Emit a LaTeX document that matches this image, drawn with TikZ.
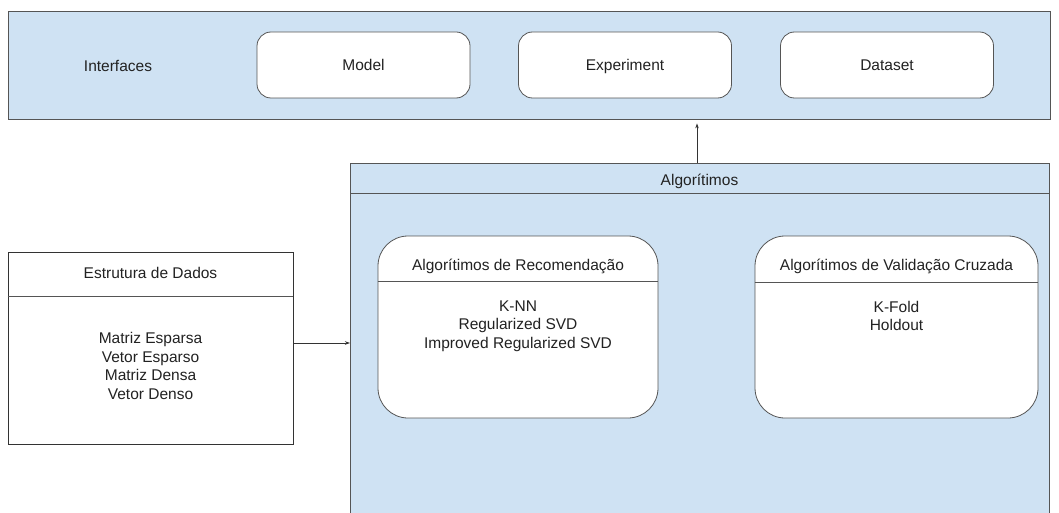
\documentclass[tikz,border=0pt]{standalone}
\usepackage{fontspec}
\setmainfont{Liberation Sans}
\usetikzlibrary{arrows.meta,calc}
\definecolor{boxblue}{HTML}{CFE2F3}
\definecolor{edge}{HTML}{555555}
\definecolor{txt}{HTML}{222222}
\begin{document}
\begin{tikzpicture}[x=1pt,y=-1pt,
  every node/.style={font=\fontsize{15.5}{18.5}\selectfont, text=txt, inner sep=0pt},
  oneline/.style={text height=11pt, text depth=0pt},
  bluebox/.style={draw=edge, fill=boxblue, line width=0.8pt},
  ifacebox/.style={draw=edge, fill=white, rounded corners=14pt, line width=0.8pt, minimum width=213pt, minimum height=66pt, oneline},
  groupbox/.style={draw=edge, fill=white, rounded corners=30pt, line width=0.8pt},
  plainbox/.style={draw=black!80, fill=white, line width=0.8pt},
  sep/.style={draw=edge, line width=0.8pt},
  conn/.style={draw=black!80, line width=0.8pt, -{Stealth[length=5pt,width=3.5pt]}},
  lines/.style={align=center}
]
\useasboundingbox (0,0) rectangle (1059,513);

% Interfaces
\node[bluebox, minimum width=1042pt, minimum height=108pt] (interfaces) at (529,65) {};
\node[oneline] (ifacelabel) at (118,66) {Interfaces};
\node[ifacebox] (model) at (363.5,65) {Model};
\node[ifacebox] (experiment) at (625,65) {Experiment};
\node[ifacebox] (dataset) at (887,65) {Dataset};

% Algoritimos container (runs off the bottom edge)
\fill[boxblue] (350,163) rectangle (1049,513);
\draw[edge, line width=0.8pt] (350,513) -- (350,163) -- (1049,163) -- (1049,513);
\coordinate (algotop) at (697,163);
\coordinate (algoleft) at (350,343);
\draw[sep] (350,193) -- (1049,193);
\node[oneline] (algolabel) at (699.5,180) {Algorítimos};

% Estrutura de Dados
\node[plainbox, minimum width=285pt, minimum height=192pt] (estr) at (150.5,348) {};
\draw[sep] (estr.west |- 0,296) -- (estr.east |- 0,296);
\node[oneline] (estrtitle) at (150.5,273) {Estrutura de Dados};
\node[lines] (estritems) at (150.5,366) {Matriz Esparsa\\Vetor Esparso\\Matriz Densa\\Vetor Denso};

% Recomendacao
\node[groupbox, minimum width=280pt, minimum height=182pt] (rec) at (518,327) {};
\draw[sep] (rec.west |- 0,281) -- (rec.east |- 0,281);
\node[oneline] (rectitle) at (518,265) {Algorítimos de Recomendação};
\node[lines] (recitems) at (518,326) {K-NN\\Regularized SVD\\Improved Regularized SVD};

% Validacao
\node[groupbox, minimum width=283pt, minimum height=182pt] (val) at (896.5,327) {};
\draw[sep] (val.west |- 0,282) -- (val.east |- 0,282);
\node[oneline] (valtitle) at (896.5,265) {Algorítimos de Validação Cruzada};
\node[lines] (valitems) at (896.5,316) {K-Fold\\Holdout};

% connectors
\draw[conn] (estr.east |- algoleft) -- (algoleft);
\draw[conn, shorten >=4pt] (algotop) -- (algotop |- interfaces.south);
\end{tikzpicture}
\end{document}
